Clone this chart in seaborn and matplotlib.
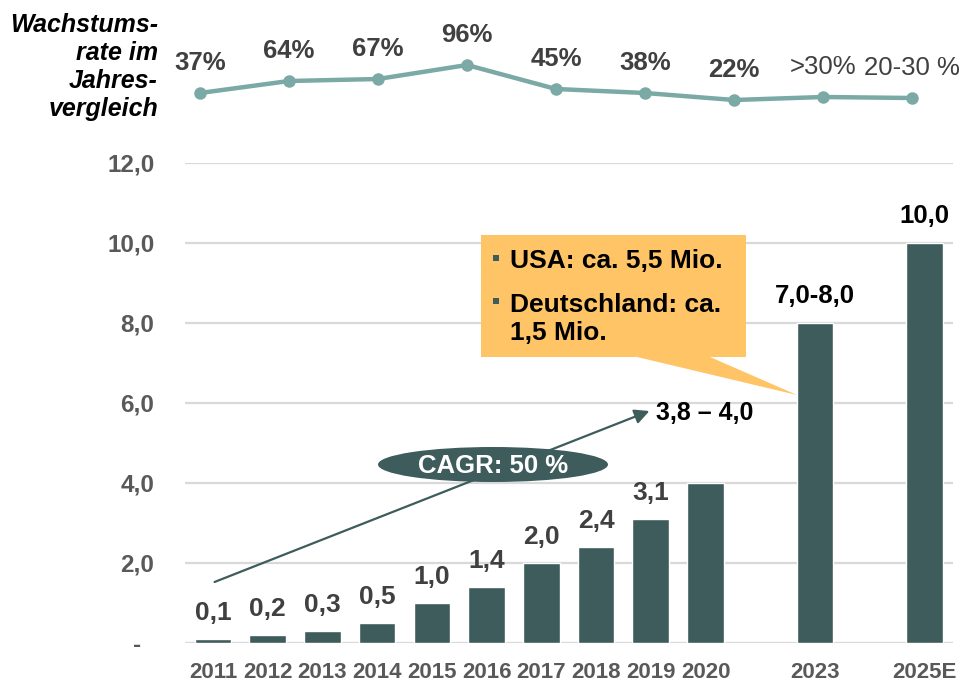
import matplotlib
matplotlib.use("Agg")
import pandas as pd
import matplotlib.pyplot as plt
import seaborn as sns
from matplotlib.patches import Ellipse, Polygon, Rectangle, FancyArrowPatch

# ------------------------------------------------------------
# Data
# ------------------------------------------------------------
years = ["2011", "2012", "2013", "2014", "2015", "2016",
         "2017", "2018", "2019", "2020", "2023", "2025E"]
units_mio = [0.1, 0.2, 0.3, 0.5, 1.0, 1.4, 2.0, 2.4, 3.1, 4.0, 8.0, 10.0]
value_labels = ["0,1", "0,2", "0,3", "0,5", "1,0", "1,4",
                "2,0", "2,4", "3,1", "", "7,0-8,0", "10,0"]

growth_labels = ["37%", "64%", "67%", "96%", "45%", "38%", "22%", ">30%", "20-30 %"]
# height of each point in the top strip (not to scale)
growth_level = [37, 49, 51, 65, 41, 37, 30, 33, 32]

ytick_values = [0, 2, 4, 6, 8, 10, 12]
ytick_labels = ["-  ", "2,0", "4,0", "6,0", "8,0", "10,0", "12,0"]

# layout: slot of each bar on the x axis (gap before 2023 and 2025E)
bar_slot = [0, 1, 2, 3, 4, 5, 6, 7, 8, 9, 11, 13]

# ------------------------------------------------------------
# Colors and fonts
# ------------------------------------------------------------
bar_color = "#3D5C5B"
line_color = "#7BA9A5"
callout_color = "#FFC465"
gray = "#595959"
dark = "#404040"

sns.set_style("white")
plt.rcParams["font.family"] = ["Liberation Sans", "DejaVu Sans"]

W, H = 961, 688


def fx(px):
    return px / W


def fy(py):
    return 1 - py / H


fig = plt.figure(figsize=(W / 100, H / 100), dpi=100)

# ------------------------------------------------------------
# Bar chart
# ------------------------------------------------------------
ax = fig.add_axes([fx(185), fy(643), (953 - 185) / W, (643 - 162.7) / H])

df = pd.DataFrame({"slot": bar_slot, "units": units_mio, "year": years})

sns.barplot(
    data=df,
    x="slot",
    y="units",
    native_scale=True,
    width=0.67,
    color=bar_color,
    saturation=1,
    ax=ax,
    zorder=2
)

ax.set_xlim(-0.51, 13.52)
ax.set_ylim(0, 12)
ax.set_xticks(bar_slot, years)
ax.set_yticks(ytick_values, ytick_labels)
ax.set_xlabel("")
ax.set_ylabel("")
ax.yaxis.grid(True, color="#D9D9D9", lw=1.6)
ax.set_axisbelow(True)
for s in ax.spines.values():
    s.set_visible(False)

ax.tick_params(axis="both", length=0)
ax.tick_params(axis="y", pad=22, labelsize=17.5, labelcolor=gray)
ax.tick_params(axis="x", pad=14, labelsize=16, labelcolor=gray)
for t in ax.get_yticklabels() + ax.get_xticklabels():
    t.set_fontweight("bold")

# value labels above bars
for i, (slot, val, lbl) in enumerate(zip(bar_slot, units_mio, value_labels)):
    if i >= 10:
        ax.annotate(lbl, (slot, val), xytext=(0, 14), textcoords="offset points",
                    ha="center", va="baseline", fontsize=18.5,
                    fontweight="bold", color="black")
    else:
        ax.annotate(lbl, (slot, val), xytext=(0, 13.5), textcoords="offset points",
                    ha="center", va="baseline", fontsize=19,
                    fontweight="bold", color=dark)

# ------------------------------------------------------------
# Growth rate strip on top
# ------------------------------------------------------------
ax_top = fig.add_axes([fx(185), fy(130), (953 - 185) / W, 130 / H])
sns.lineplot(
    x=list(range(len(growth_level))),
    y=growth_level,
    marker="o",
    color=line_color,
    lw=3.2,
    markersize=9,
    markeredgewidth=0,
    ax=ax_top
)
ax_top.set_xlim(-15 / 89, 8 + 41 / 89)
ax_top.set_ylim(0, 130)
ax_top.axis("off")

for i, (lvl, lbl) in enumerate(zip(growth_level, growth_labels)):
    ax_top.annotate(lbl, (i, lvl), xytext=(0, 16.5), textcoords="offset points",
                    ha="center", va="baseline", fontsize=18.5,
                    fontweight="bold" if i < 7 else "normal", color=dark)

fig.text(fx(158), fy(67), "Wachstums-\nrate im\nJahres-\nvergleich",
         ha="right", va="center", fontsize=18, fontweight="bold",
         fontstyle="italic", color="black", linespacing=1.22)

# ------------------------------------------------------------
# CAGR arrow and ellipse
# ------------------------------------------------------------
fig.add_artist(FancyArrowPatch(
    (fx(212), fy(583)), (fx(652), fy(410)),
    transform=fig.transFigure, arrowstyle="-|>", mutation_scale=22,
    color=bar_color, lw=1.6, zorder=3
))
fig.add_artist(Ellipse((fx(493), fy(464.5)), 230 / W, 35 / H,
                       transform=fig.transFigure, facecolor=bar_color,
                       edgecolor="none", zorder=4))
fig.text(fx(493), fy(473), "CAGR: 50 %", ha="center", va="baseline",
         fontsize=18.5, fontweight="bold", color="white", zorder=5)
fig.text(fx(656), fy(420), "3,8 \u2013 4,0", ha="left", va="baseline",
         fontsize=18, fontweight="bold", color="black")

# ------------------------------------------------------------
# Callout box
# ------------------------------------------------------------
callout_px = [(481, 235), (746, 235), (746, 357), (710, 357),
              (797, 395), (637, 357), (481, 357)]
fig.add_artist(Polygon([(fx(x), fy(y)) for x, y in callout_px],
                       closed=True, transform=fig.transFigure,
                       facecolor=callout_color, edgecolor="none", zorder=4))
for by in (258, 301):
    fig.add_artist(Rectangle((fx(493), fy(by + 3)), 6 / W, 6 / H,
                             transform=fig.transFigure, facecolor=bar_color,
                             edgecolor="none", zorder=5))
fig.text(fx(510), fy(268), "USA: ca. 5,5 Mio.", ha="left", va="baseline",
         fontsize=19, fontweight="bold", color="black", zorder=5)
fig.text(fx(510), fy(312), "Deutschland: ca.", ha="left", va="baseline",
         fontsize=19, fontweight="bold", color="black", zorder=5)
fig.text(fx(510), fy(340), "1,5 Mio.", ha="left", va="baseline",
         fontsize=19, fontweight="bold", color="black", zorder=5)

fig.savefig("out.png", dpi=100)
